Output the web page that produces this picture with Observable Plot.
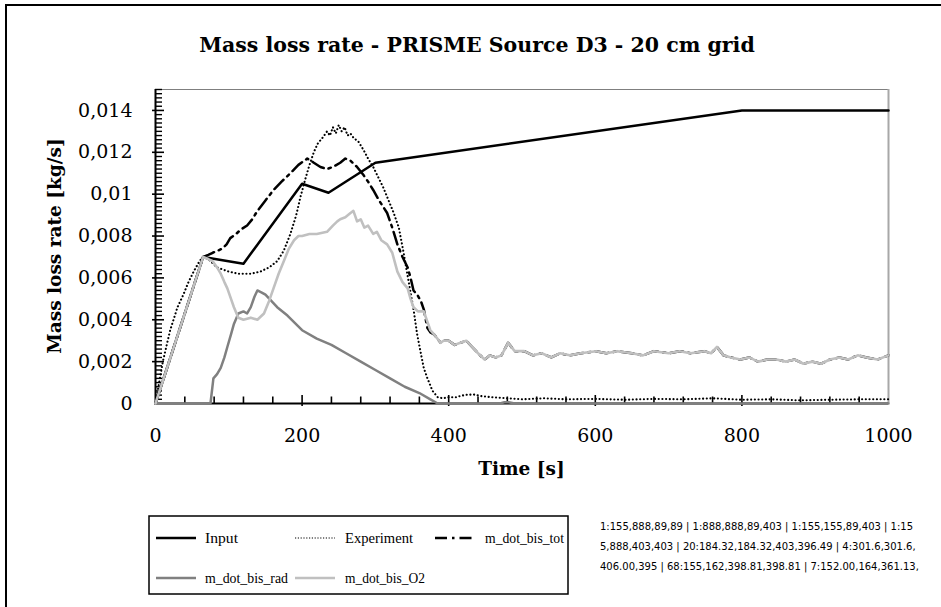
<!DOCTYPE html>
<html>
<head>
<meta charset="utf-8">
<script src="https://cdn.jsdelivr.net/npm/d3@7"></script>
<script src="https://cdn.jsdelivr.net/npm/@observablehq/plot@0.6"></script>
<style>
  html, body { margin: 0; padding: 0; background: #fff; }
</style>
</head>
<body>
<div id="chart"></div>
<script>
// ---------------- DATA ----------------
const titleText = "Mass loss rate - PRISME Source D3 - 20 cm grid";
const xTitle = "Time [s]";
const yTitle = "Mass loss rate [kg/s]";
const seriesNames = ["Input", "Experiment", "m_dot_bis_tot", "m_dot_bis_rad", "m_dot_bis_O2"];

const xTicks = [0, 200, 400, 600, 800, 1000];
const xTickLabels = ["0", "200", "400", "600", "800", "1000"];
const yTicks = [0, 0.002, 0.004, 0.006, 0.008, 0.01, 0.012, 0.014];
const yTickLabels = ["0", "0,002", "0,004", "0,006", "0,008", "0,01", "0,012", "0,014"];
const xMinorTicks = [40, 80, 120, 160, 240, 280, 320, 360, 440, 480, 520, 560, 640, 680, 720, 760, 840, 880, 920, 960];
const yMinorStep = 0.0002;
const xDomain = [0, 1000];
const yDomain = [0, 0.015];

const inputT = [0, 65, 120, 200, 236, 300, 800, 1000];
const inputV = [0, 0.0070, 0.00668, 0.0105, 0.01007, 0.0115, 0.0140, 0.0140];

const expT = [0, 4, 10, 20, 30, 38, 45, 52, 60, 65, 72, 84, 100, 113, 130, 143, 155, 166, 175, 184, 192, 198, 205, 211, 216, 221, 228, 234, 238, 242, 246, 250, 254, 258, 262, 266, 270, 277, 284, 290, 297, 304, 311, 318, 325, 332, 338, 343, 348, 352, 357, 362, 366, 371, 378, 385, 392, 400, 410, 418, 425, 434, 445, 460, 480, 500, 530, 560, 600, 640, 680, 720, 760, 800, 840, 880, 920, 960, 1000];
const expV = [0, 0.0008, 0.0020, 0.0035, 0.0046, 0.0052, 0.0058, 0.0063, 0.0068, 0.0070, 0.0069, 0.0065, 0.0063, 0.0062, 0.0062, 0.0063, 0.0065, 0.0068, 0.0073, 0.0081, 0.0090, 0.0099, 0.0108, 0.0115, 0.0120, 0.0124, 0.0127, 0.0130, 0.0128, 0.0132, 0.0129, 0.0133, 0.0130, 0.0132, 0.0128, 0.0129, 0.0127, 0.0125, 0.0121, 0.0117, 0.0113, 0.0108, 0.0103, 0.0097, 0.0091, 0.0084, 0.0073, 0.0063, 0.0053, 0.0045, 0.0033, 0.0024, 0.0017, 0.0012, 0.0006, 0.0003, 0.00025, 0.0003, 0.0003, 0.00038, 0.00042, 0.00043, 0.00035, 0.0003, 0.00025, 0.0002, 0.00025, 0.0002, 0.00022, 0.00018, 0.00022, 0.0002, 0.00025, 0.00018, 0.0002, 0.00015, 0.00018, 0.0002, 0.0002];

const totT = [0, 65, 72, 78, 85, 91, 97, 102, 110, 116, 125, 132, 139, 150, 161, 172, 184, 195, 207, 212, 216, 225, 234, 242, 252, 259, 266, 275, 284, 290, 297, 305, 316, 323, 330, 337, 344, 348, 352, 357, 362, 366, 371, 375, 380];
const totV = [0, 0.0070, 0.0071, 0.0072, 0.0073, 0.0074, 0.0076, 0.0079, 0.0081, 0.0083, 0.0085, 0.0088, 0.0092, 0.0097, 0.0102, 0.0106, 0.0110, 0.0114, 0.0117, 0.0116, 0.0115, 0.0113, 0.0112, 0.0113, 0.0115, 0.0117, 0.0116, 0.0113, 0.0109, 0.0106, 0.0102, 0.0097, 0.0091, 0.0084, 0.0076, 0.0070, 0.0065, 0.0060, 0.0054, 0.0052, 0.0049, 0.0045, 0.0036, 0.0034, 0.0033];

const radT = [0, 75, 79, 84, 89, 94, 98, 103, 107, 113, 120, 125, 130, 135, 139, 145, 150, 158, 166, 180, 200, 220, 240, 260, 280, 300, 320, 340, 360, 375, 385, 470, 476, 482, 490, 1000];
const radV = [0, 0, 0.0012, 0.0014, 0.0017, 0.0022, 0.0027, 0.0033, 0.0038, 0.0043, 0.0044, 0.0043, 0.0046, 0.0051, 0.0054, 0.0053, 0.0052, 0.0049, 0.0046, 0.0042, 0.0035, 0.0031, 0.0028, 0.0024, 0.0020, 0.0016, 0.0012, 0.0008, 0.0005, 0.0002, 0, 0, 0.00006, 0.00006, 0, 0];

const o2T = [0, 65, 72, 78, 84, 89, 94, 98, 103, 107, 113, 120, 130, 139, 148, 155, 161, 168, 175, 182, 189, 195, 200, 210, 220, 234, 242, 248, 252, 259, 266, 270, 275, 280, 285, 290, 297, 302, 308, 316, 323, 330, 337, 344, 348, 352, 358, 366, 371, 375, 380, 389, 393, 400, 408, 416, 424, 432, 440, 449, 456, 464, 472, 481, 490, 503, 515, 527, 540, 552, 565, 580, 601, 615, 630, 650, 665, 680, 700, 715, 730, 749, 758, 766, 775, 785, 798, 810, 822, 835, 847, 860, 872, 884, 896, 908, 920, 933, 945, 958, 970, 985, 1000];
const o2V = [0, 0.0070, 0.0069, 0.0068, 0.0065, 0.0062, 0.0058, 0.0055, 0.0050, 0.0046, 0.0041, 0.0040, 0.0041, 0.0040, 0.0043, 0.0049, 0.0055, 0.0062, 0.0068, 0.0074, 0.0078, 0.0080, 0.0080, 0.0081, 0.0081, 0.0082, 0.0085, 0.0087, 0.0088, 0.0089, 0.0091, 0.0092, 0.0087, 0.0088, 0.0084, 0.0085, 0.0081, 0.0082, 0.0078, 0.0076, 0.0072, 0.0063, 0.0058, 0.0055, 0.0050, 0.0046, 0.0044, 0.0044, 0.0039, 0.0035, 0.0033, 0.0029, 0.0030, 0.0030, 0.0028, 0.0029, 0.0030, 0.0027, 0.0024, 0.0021, 0.0023, 0.0022, 0.0023, 0.0029, 0.0025, 0.0025, 0.0023, 0.0024, 0.0022, 0.0024, 0.0023, 0.0024, 0.0025, 0.0024, 0.0025, 0.0024, 0.0023, 0.0025, 0.0024, 0.0025, 0.0024, 0.0025, 0.0024, 0.0027, 0.0023, 0.0022, 0.0021, 0.0022, 0.0020, 0.0021, 0.0021, 0.0020, 0.0021, 0.0019, 0.0020, 0.0019, 0.0021, 0.0022, 0.0021, 0.0023, 0.0022, 0.0021, 0.0023];

// ---------------- BUILD ----------------
const W = 941, H = 607, mL = 155, mR = 53, mT = 89, mB = 204;
const toRows = (T, V) => T.map((t, i) => ({t, v: V[i]}));
const inputRows = toRows(inputT, inputV);
const expRows = toRows(expT, expV);
const o2Rows = toRows(o2T, o2V);
const radRows = toRows(radT, radV);
// tot = rad + O2; after rad vanishes it coincides with O2
const totRows = toRows(totT, totV).concat(o2Rows.filter(d => d.t >= 389));

const yMinorTicks = [];
for (let k = 1; k <= 75; k++) {
  const v = Math.round(k * yMinorStep * 1e6) / 1e6;
  if (!yTicks.some(m => Math.abs(m - v) < 1e-9)) yMinorTicks.push(v);
}
const xMajorInner = xTicks.filter(t => t > xDomain[0] && t < xDomain[1]);
const yMajorInner = yTicks.filter(v => v > yDomain[0]);
const pxY = (yDomain[1] - yDomain[0]) / (H - mT - mB);
const pxX = (xDomain[1] - xDomain[0]) / (W - mL - mR);

const styles = {
  "Input": {stroke: "#000000", strokeWidth: 2.5},
  "Experiment": {stroke: "#000000", strokeWidth: 2.1, strokeDasharray: "0.1 3.6", strokeLinecap: "round"},
  "m_dot_bis_tot": {stroke: "#000000", strokeWidth: 2.5, strokeDasharray: "13 5 2.5 5"},
  "m_dot_bis_rad": {stroke: "#808080", strokeWidth: 2.5},
  "m_dot_bis_O2": {stroke: "#c0c0c0", strokeWidth: 2.6}
};

const plot = Plot.plot({
  width: W,
  height: H,
  marginLeft: mL,
  marginRight: mR,
  marginTop: mT,
  marginBottom: mB,
  style: {fontFamily: "DejaVu Serif", fontSize: "19px", color: "#000", background: "#fff", overflow: "visible"},
  x: {domain: xDomain},
  y: {domain: yDomain},
  marks: [
    Plot.axisX({ticks: xTicks, tickSize: 0, tickPadding: 25, label: null, fontSize: 19,
      tickFormat: d => xTickLabels[xTicks.indexOf(d)]}),
    Plot.axisY({ticks: yTicks, tickSize: 0, tickPadding: 23, label: null, fontSize: 19,
      tickFormat: d => yTickLabels[yTicks.indexOf(d)]}),
    Plot.ruleY([yDomain[1]], {stroke: "#7f7f7f", strokeWidth: 1}),
    Plot.ruleX([xDomain[1]], {stroke: "#a8a8a8", strokeWidth: 2}),
    Plot.ruleX([0], {stroke: "#000", strokeWidth: 2}),
    Plot.ruleY([0], {stroke: "#000", strokeWidth: 2}),
    Plot.ruleX(xMinorTicks, {x: d => d, y1: 0, y2: 6.5 * pxY, stroke: "#000", strokeWidth: 1.6}),
    Plot.ruleX(xMajorInner, {x: d => d, y1: -3 * pxY, y2: 8 * pxY, stroke: "#000", strokeWidth: 1.6}),
    Plot.ruleY(yMinorTicks, {y: d => d, x1: 0, x2: 7 * pxX, stroke: "#000", strokeWidth: 1.4}),
    Plot.ruleY(yMajorInner, {y: d => d, x1: -3 * pxX, x2: 9 * pxX, stroke: "#000", strokeWidth: 1.6}),
    Plot.line(inputRows, {x: "t", y: "v", ...styles["Input"], strokeLinejoin: "round"}),
    Plot.line(expRows, {x: "t", y: "v", ...styles["Experiment"], strokeLinejoin: "round"}),
    Plot.line(totRows, {x: "t", y: "v", ...styles["m_dot_bis_tot"], strokeLinejoin: "round"}),
    Plot.line(radRows, {x: "t", y: "v", ...styles["m_dot_bis_rad"], strokeLinejoin: "round"}),
    Plot.line(o2Rows, {x: "t", y: "v", ...styles["m_dot_bis_O2"], strokeLinejoin: "round"})
  ]
});

const sx = plot.scale("x"), sy = plot.scale("y");
const svg = d3.select(plot);
const x0 = sx.apply(xDomain[0]), x1 = sx.apply(xDomain[1]);
const y0 = sy.apply(yDomain[0]), y1 = sy.apply(yDomain[1]);

// diagnostic: inspect rule groups
const info = Array.from(plot.querySelectorAll("g[aria-label='rule']")).map(g => {
  const l = g.querySelector("line");
  return g.childElementCount + ":" + (l ? [l.getAttribute("x1"), l.getAttribute("x2"), l.getAttribute("y1"), l.getAttribute("y2")].map(v => String(v).slice(0, 6)).join(",") : "-");
}).join(" | ");
svg.append("text").attr("x", 600).attr("y", 530).attr("font-size", 10).attr("text-anchor", "start")
  .attr("font-family", "DejaVu Sans").text(info.slice(0, 60));
svg.append("text").attr("x", 600).attr("y", 550).attr("font-size", 10).attr("text-anchor", "start")
  .attr("font-family", "DejaVu Sans").text(info.slice(60, 120));
svg.append("text").attr("x", 600).attr("y", 570).attr("font-size", 10).attr("text-anchor", "start")
  .attr("font-family", "DejaVu Sans").text(info.slice(120, 180));

// title
svg.append("text").attr("x", 477).attr("y", 52).attr("text-anchor", "middle")
  .attr("font-family", "DejaVu Serif").attr("font-weight", "bold").attr("font-size", 20.5)
  .attr("fill", "#000").text(titleText);
svg.append("text").attr("x", (x0 + x1) / 2).attr("y", 475).attr("text-anchor", "middle")
  .attr("font-family", "DejaVu Serif").attr("font-weight", "bold").attr("font-size", 18.5)
  .attr("fill", "#000").text(xTitle);
svg.append("text").attr("transform", `translate(61,${(y0 + y1) / 2}) rotate(-90)`)
  .attr("text-anchor", "middle")
  .attr("font-family", "DejaVu Serif").attr("font-weight", "bold").attr("font-size", 18.5)
  .attr("fill", "#000").text(yTitle);

// legend
const lg = svg.append("g");
lg.append("rect").attr("x", 149).attr("y", 516).attr("width", 419).attr("height", 78)
  .attr("fill", "#fff").attr("stroke", "#000").attr("stroke-width", 1.5);
const legendPos = [
  {name: "Input", lx: 156, tx: 205, y: 538, w: 33},
  {name: "Experiment", lx: 295, tx: 345, y: 538, w: 68},
  {name: "m_dot_bis_tot", lx: 435, tx: 485, y: 538, w: 79},
  {name: "m_dot_bis_rad", lx: 156, tx: 205, y: 578, w: 83},
  {name: "m_dot_bis_O2", lx: 295, tx: 345, y: 578, w: 80}
];
legendPos.forEach(p => {
  const s = styles[p.name];
  const ln = lg.append("line").attr("x1", p.lx).attr("x2", p.lx + 40).attr("y1", p.y).attr("y2", p.y)
    .attr("stroke", s.stroke).attr("stroke-width", p.name === "Experiment" ? 1.2 : s.strokeWidth);
  if (p.name === "Experiment") ln.attr("stroke-dasharray", "1.2 1.6");
  else if (s.strokeDasharray) ln.attr("stroke-dasharray", "12 5 2.5 5");
  lg.append("text").attr("x", p.tx).attr("y", p.y + 5).attr("text-anchor", "start")
    .attr("font-family", "Liberation Serif").attr("font-size", 15.5)
    .attr("textLength", p.w).attr("lengthAdjust", "spacingAndGlyphs")
    .attr("fill", "#000").text(p.name);
});

svg.append("path").attr("d", `M6,${H} V5 H${W}`).attr("fill", "none").attr("stroke", "#000").attr("stroke-width", 2);

document.getElementById("chart").appendChild(plot);
</script>
</body>
</html>
